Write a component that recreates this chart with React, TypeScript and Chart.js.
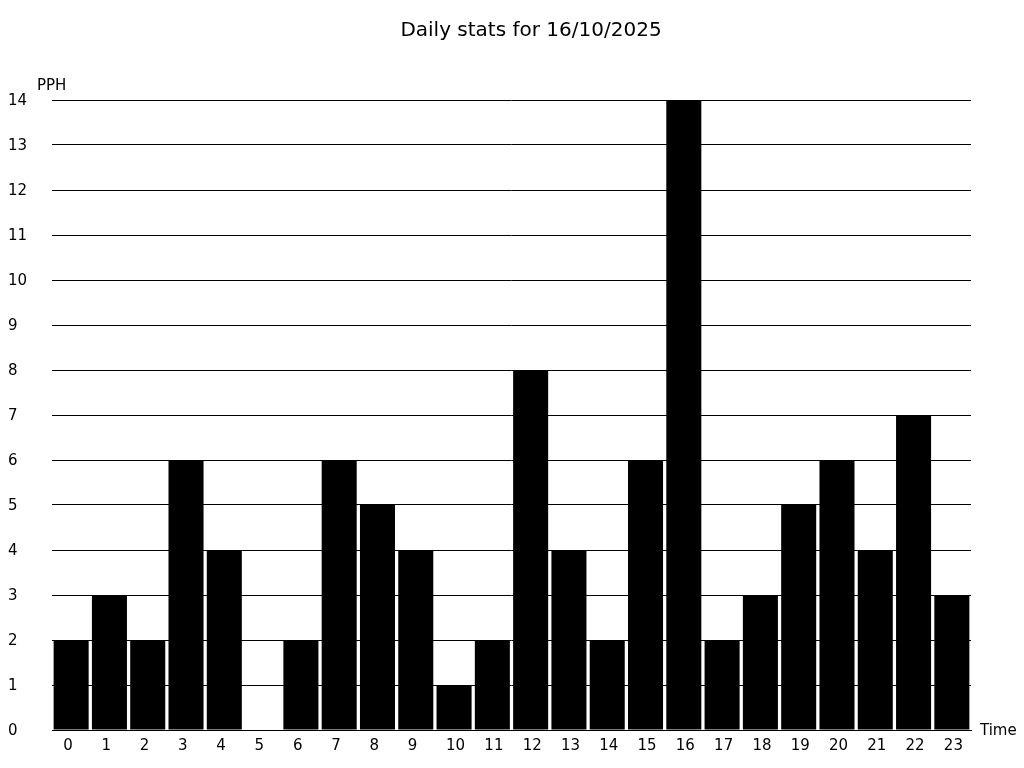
import React, { useEffect, useRef } from "react";
import { Chart, registerables } from "chart.js";

Chart.register(...registerables);

const hours = ["0","1","2","3","4","5","6","7","8","9","10","11","12","13","14","15","16","17","18","19","20","21","22","23"];
const pph = [2,3,2,6,4,0,2,6,5,4,1,2,8,4,2,6,14,2,3,5,6,4,7,3];
const titleText = "Daily stats for 16/10/2025";
const yLabel = "PPH";
const xLabel = "Time";

const FONT = "'DejaVu Sans', sans-serif";

const textPlugin = {
  id: "extraText",
  afterDraw(chart: any) {
    const ctx = chart.ctx;
    const area = chart.chartArea;
    ctx.save();
    ctx.fillStyle = "#000";
    ctx.textBaseline = "middle";
    ctx.font = `20px ${FONT}`;
    ctx.textAlign = "center";
    ctx.fillText(titleText, 531, 31);
    ctx.font = `15px ${FONT}`;
    ctx.textAlign = "left";
    ctx.fillText(yLabel, 37, 86);
    ctx.fillText(xLabel, area.right + 9, area.bottom + 1);
    ctx.restore();
  },
};

export default function App() {
  const ref = useRef<HTMLCanvasElement | null>(null);
  useEffect(() => {
    if (!ref.current) return;
    const chart = new Chart(ref.current, {
      type: "bar",
      data: {
        labels: hours,
        datasets: [
          {
            data: pph,
            backgroundColor: "#000",
            borderWidth: 0,
            barPercentage: 0.915,
            categoryPercentage: 1,
          },
        ],
      },
      options: {
        animation: false,
        responsive: false,
        maintainAspectRatio: false,
        layout: { padding: { top: 100, left: 8, right: 53, bottom: 8 } },
        plugins: {
          legend: { display: false },
          title: { display: false },
          tooltip: { enabled: false },
        },
        scales: {
          x: {
            grid: { display: false, drawTicks: false },
            border: { display: true, color: "#000", width: 1 },
            ticks: {
              color: "#000",
              font: { family: FONT, size: 15 },
              padding: 7,
              maxRotation: 0,
              autoSkip: false,
              align: "start",
              labelOffset: -8,
            },
            afterFit(scale: any) { scale.height = 30; },
          },
          y: {
            min: 0,
            max: 14,
            grid: { color: "#000", lineWidth: 1, drawTicks: false },
            border: { display: false },
            ticks: {
              stepSize: 1,
              color: "#000",
              crossAlign: "far",
              padding: 0,
              labelOffset: 1,
              font: { family: FONT, size: 15 },
            },
            afterFit(scale: any) { scale.width = 44; },
          },
        },
      },
      plugins: [textPlugin],
    });
    return () => chart.destroy();
  }, []);
  return (
    <div style={{ position: "absolute", left: 0, top: 0, width: 1024, height: 768, background: "#fff" }}>
      <canvas ref={ref} width={1024} height={768} style={{ display: "block" }} />
    </div>
  );
}
